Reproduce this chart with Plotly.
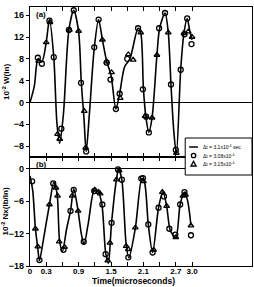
import plotly.graph_objects as go

# ---- data: panel (a) W ----
line_t_w = [0, 0.08, 0.15, 0.22, 0.30, 0.36, 0.44, 0.50, 0.55, 0.62, 0.72, 0.81, 0.90, 0.95, 1.00, 1.04,
            1.10, 1.19, 1.27, 1.34, 1.42, 1.50, 1.59, 1.66, 1.75, 1.85, 2.00, 2.05, 2.10, 2.15, 2.20, 2.26,
            2.35, 2.40, 2.50, 2.56, 2.61, 2.66, 2.71, 2.79, 2.85, 2.91, 2.96, 3.00]
line_w = [0, 3, 8, 7.5, 11, 15.2, 8.3, -4, -7.5, -2, 13.3, 16.9, 13, 3.6, -3, -9,
          -2, 10, 15.2, 11.5, 7.5, 5, -1.2, 1.6, 6.5, 8, 13.6, 12.8, 2.4, -3, -5.5, -2.8,
          8.7, 13.6, 16.4, 12.8, 3.3, -5, -9.5, 6, 12.7, 15.4, 13, 11.5]

circ_t_w = [0.145, 0.22, 0.36, 0.44, 0.58, 0.72, 0.81, 0.945, 1.04, 1.19, 1.27, 1.42, 1.49, 1.59, 1.66,
            1.80, 2.00, 2.09, 2.15, 2.20, 2.39, 2.50, 2.61, 2.70, 2.79, 2.86, 2.91, 2.99]
circ_w = [8.2, 7.1, 15.0, 8.3, -4.8, 13.3, 16.9, 3.6, -9.0, 10.1, 15.2, 7.3, 4.2, -1.2, 1.6,
          8.0, 13.6, 2.4, -2.6, -5.5, 13.6, 16.4, 3.3, -8.7, 6.0, 12.5, 15.4, 10.7]

tri_t_w = [0.16, 0.30, 0.37, 0.51, 0.55, 0.73, 0.90, 1.005, 1.03, 1.34, 1.42, 1.51, 1.67, 1.82, 1.91,
           2.05, 2.13, 2.26, 2.35, 2.56, 2.71, 2.85, 2.93, 3.00]
tri_w = [7.6, 11.0, 14.7, -5.8, -6.7, 13.3, 13.1, -1.6, -8.3, 11.5, 7.5, 5.5, 0.8, 8.8, 7.8,
         12.8, -2.5, -2.8, 8.7, 12.8, -9.3, 12.7, 13.0, 12.0]

# ---- data: panel (b) Nx ----
line_t_n = [0, 0.05, 0.10, 0.145, 0.175, 0.25, 0.36, 0.44, 0.48, 0.51, 0.55, 0.60, 0.68, 0.75, 0.81, 0.89,
            0.95, 1.00, 1.08, 1.19, 1.26, 1.33, 1.40, 1.45, 1.51, 1.60, 1.64, 1.70, 1.78, 1.83, 1.95, 2.07,
            2.12, 2.19, 2.27, 2.38, 2.46, 2.53, 2.60, 2.70, 2.78, 2.86, 2.92, 2.98]
line_n = [-1.3, -4, -11, -14.8, -17, -13, -6.6, -2.5, -3.5, -5.5, -13.5, -15.3, -11, -7.8, -3.7, -7.8,
          -12, -14, -10, -4, -4.2, -6.5, -15.5, -17.5, -10, -2, 0, -2, -14, -16.5, -11, -1.8,
          -2.5, -10.3, -15.5, -7.2, -4.2, -6.9, -11.5, -12.7, -6.6, -4.3, -6, -10.5]

circ_t_n = [0.04, 0.175, 0.43, 0.62, 0.75, 0.81, 0.995, 1.19, 1.34, 1.40, 1.51, 1.63, 1.70, 1.82, 2.06,
            2.09, 2.19, 2.27, 2.38, 2.48, 2.58, 2.69, 2.78, 2.86, 2.98]
circ_n = [-2.3, -16.9, -2.7, -15, -7.8, -3.9, -13.5, -4.1, -6.6, -15.8, -10, -0.1, -2, -16.4, -1.8,
          -1.7, -10.3, -15.5, -7.2, -5.1, -11.1, -12.2, -6.6, -4.3, -12.3]

tri_t_n = [0.10, 0.145, 0.36, 0.48, 0.51, 0.54, 0.64, 0.78, 0.89, 1.20, 1.27, 1.30, 1.44, 1.48, 1.60,
           1.65, 1.78, 1.82, 1.95, 2.10, 2.29, 2.45, 2.53, 2.70, 2.83, 2.88, 2.98]
tri_n = [-11.1, -14.4, -6.6, -3.5, -5, -13.5, -14.5, -5, -7.8, -3.9, -4.3, -4.6, -17, -13.7, -2,
         -0.3, -14.3, -14.9, -10.9, -2.3, -15, -4.3, -6.9, -12.7, -5, -4.8, -10.5]

x_tickvals = [0, 0.3, 0.6, 0.9, 1.2, 1.5, 1.8, 2.1, 2.4, 2.7, 3.0]
x_ticktext = ["0", "0.3", "", "0.9", "", "1.5", "", "2.1", "", "2.7", "3.0"]
yw_ticks = [16, 12, 8, 4, 0, -4, -8]
yn_ticks = [0, -6, -12, -18]

names = ["Δt = 3.1x10<sup>-4</sup> sec", "Δt = 3.08x10<sup>-4</sup>", "Δt = 3.15x10<sup>-4</sup>"]

FONT = "Arial, Liberation Sans, sans-serif"
fig = go.Figure()

line_style = dict(color="black", width=1.6, shape="spline", smoothing=0.8)
circ_style = dict(symbol="circle-open", size=5, color="black", line=dict(width=1.3, color="black"))
tri_style = dict(symbol="triangle-up-open", size=5, color="black", line=dict(width=1.3, color="black"))

fig.add_trace(go.Scatter(x=line_t_w, y=line_w, mode="lines", line=line_style, name=names[0],
                         xaxis="x", yaxis="y"))
fig.add_trace(go.Scatter(x=circ_t_w, y=circ_w, mode="markers", marker=circ_style, name=names[1],
                         xaxis="x", yaxis="y"))
fig.add_trace(go.Scatter(x=tri_t_w, y=tri_w, mode="markers", marker=tri_style, name=names[2],
                         xaxis="x", yaxis="y"))
fig.add_trace(go.Scatter(x=line_t_n, y=line_n, mode="lines", line=line_style, name=names[0],
                         xaxis="x2", yaxis="y2"))
fig.add_trace(go.Scatter(x=circ_t_n, y=circ_n, mode="markers", marker=circ_style, name=names[1],
                         xaxis="x2", yaxis="y2"))
fig.add_trace(go.Scatter(x=tri_t_n, y=tri_n, mode="markers", marker=tri_style, name=names[2],
                         xaxis="x2", yaxis="y2"))

tickfont = dict(family=FONT, size=9, color="black", weight="bold")
xtickfont = dict(family=FONT, size=8, color="black", weight="bold")
common_x = dict(range=[0, 4.11], tickvals=x_tickvals, ticks="inside", ticklen=4, tickcolor="black",
                showline=True, linecolor="black", linewidth=1.3, mirror="ticks", showgrid=False,
                zeroline=False, tickfont=xtickfont)
common_y = dict(showline=True, linecolor="black", linewidth=1.3, mirror=True, showgrid=False,
                ticks="outside", ticklen=3, tickcolor="black", tickfont=tickfont,
                zeroline=True, zerolinecolor="black", zerolinewidth=1.3)

# plot area in pixels: left 27, right 253, top 7, bottom 266
PB = 266
PH = PB - 7


def px_x(p):
    return (p - 27) / 226.0


def px_y(p):
    return (PB - p) / PH


split = px_y(157)

# hand-drawn compact legend (box, samples, labels)
leg_rows = [147, 155.5, 164]
leg_sym_x = px_x(193.5)
leg_txt_x = px_x(201)
shapes = [
    dict(type="rect", xref="paper", yref="paper", x0=px_x(185), x1=1.0, y0=px_y(175), y1=px_y(138),
         line=dict(color="black", width=1), fillcolor="white", layer="above"),
    dict(type="line", xref="paper", yref="paper", x0=px_x(189), x1=px_x(198),
         y0=px_y(leg_rows[0]), y1=px_y(leg_rows[0]), line=dict(color="black", width=1.5)),
    dict(type="circle", xref="paper", yref="paper", xsizemode="pixel", ysizemode="pixel",
         xanchor=leg_sym_x, yanchor=px_y(leg_rows[1]), x0=-2.2, x1=2.2, y0=-2.2, y1=2.2,
         line=dict(color="black", width=1.3)),
    dict(type="path", xref="paper", yref="paper", xsizemode="pixel", ysizemode="pixel",
         xanchor=leg_sym_x, yanchor=px_y(leg_rows[2]), path="M -2.6 -2 L 2.6 -2 L 0 2.6 Z",
         line=dict(color="black", width=1.3)),
]
annotations = [
    dict(text="(a)", xref="paper", yref="paper", x=0.02, y=0.995, xanchor="left", yanchor="top",
         showarrow=False, font=dict(family=FONT, size=8, weight="bold")),
    dict(text="(b)", xref="paper", yref="paper", x=0.02, y=split - 0.005, xanchor="left", yanchor="top",
         showarrow=False, font=dict(family=FONT, size=8, weight="bold")),
    dict(text="Time(microseconds)", xref="x2", yref="paper", x=1.91, y=px_y(287.5), xanchor="center",
         yanchor="bottom", showarrow=False, font=dict(family=FONT, size=8.5, weight="bold")),
]
for row, nm in zip(leg_rows, names):
    annotations.append(dict(text=nm, xref="paper", yref="paper", x=leg_txt_x, y=px_y(row),
                            xanchor="left", yanchor="middle", showarrow=False,
                            font=dict(family=FONT, size=5, color="black")))

fig.update_layout(
    width=254, height=287,
    margin=dict(l=27, r=1, t=7, b=287 - PB),
    paper_bgcolor="white", plot_bgcolor="white",
    font=dict(family=FONT, color="black"),
    xaxis=dict(common_x, anchor="y", showticklabels=False, domain=[0, 1]),
    xaxis2=dict(common_x, anchor="y2", ticktext=x_ticktext, domain=[0, 1], ticklabelstandoff=-3),
    yaxis=dict(common_y, domain=[split, 1], range=[-10, 17.5], tickvals=yw_ticks, anchor="x",
               title=dict(text="10<sup>-2</sup> W(in)", font=dict(family=FONT, size=8, weight="bold"),
                          standoff=2)),
    yaxis2=dict(common_y, domain=[0, split], range=[-18, 2.2], tickvals=yn_ticks, anchor="x2",
                title=dict(text="10<sup>-2</sup> Nx(lb/in)", font=dict(family=FONT, size=8, weight="bold"),
                           standoff=2)),
    showlegend=False,
    shapes=shapes,
    annotations=annotations,
)

fig.write_html("out.html")
